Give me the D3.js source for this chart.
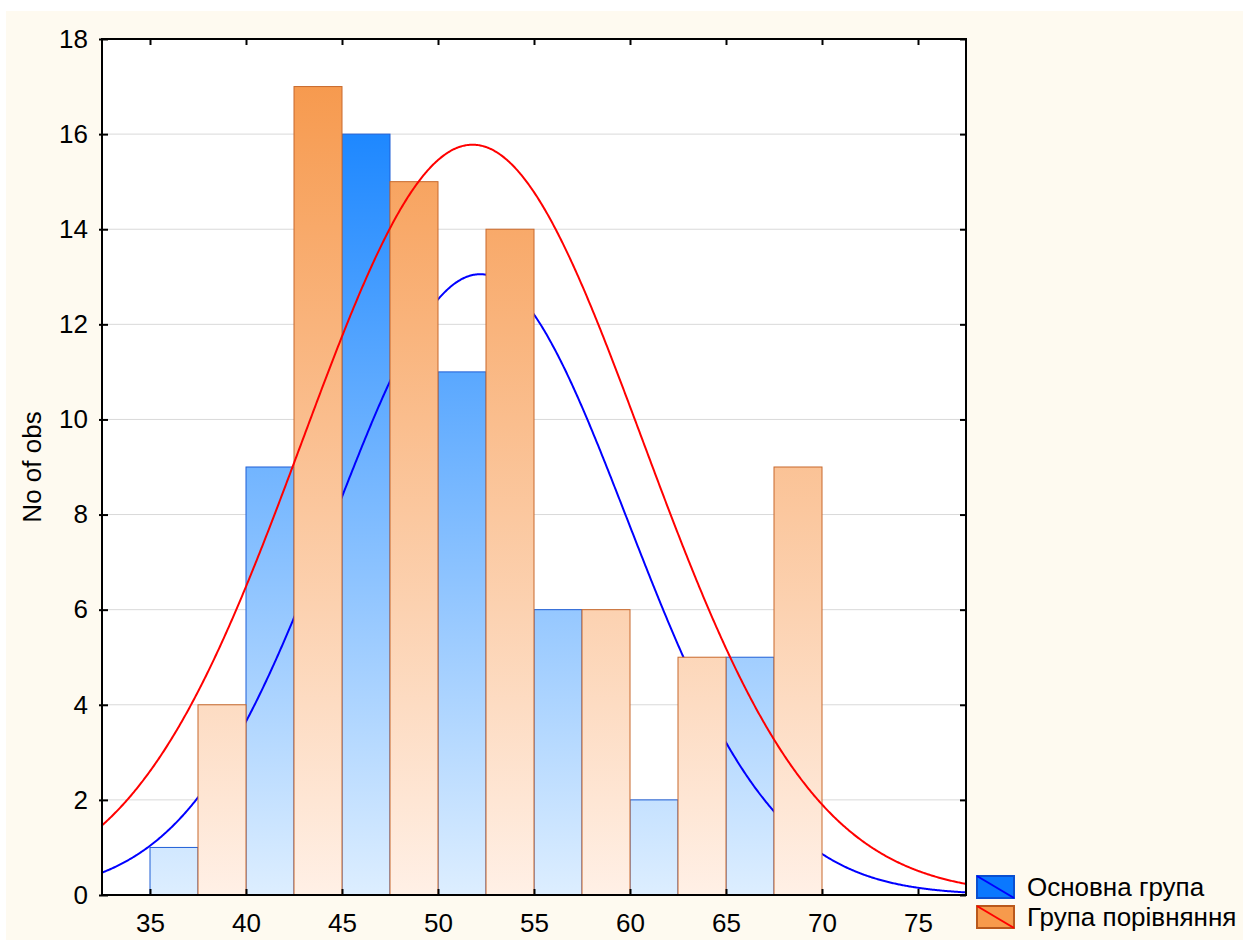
<!DOCTYPE html>
<html>
<head>
<meta charset="utf-8">
<script src="https://cdn.jsdelivr.net/npm/d3@7"></script>
<style>
  html, body { margin: 0; padding: 0; background: #ffffff; }
  svg { display: block; font-family: Arial, "Liberation Sans", sans-serif; }
</style>
</head>
<body>
<svg id="chart" width="1243" height="940"></svg>
<script>
// Histogram intervals (left edge of each 5-unit class) and counts per group
const binStarts   = [35, 40, 45, 50, 55, 60, 65];
const binWidth    = 5;
const mainCounts  = [1, 9, 16, 11, 6, 2, 5];   // Основна група
const compCounts  = [4, 17, 15, 14, 6, 5, 9];  // Група порівняння

// Normal fit parameters for each group
const mainFit = { mean: 52.2, sd: 7.64 };
const compFit = { mean: 51.8, sd: 8.85 };

const xTicks = [35, 40, 45, 50, 55, 60, 65, 70, 75];
const yTicks = [0, 2, 4, 6, 8, 10, 12, 14, 16, 18];
const seriesNames = ["Основна група", "Група порівняння"];

const svg = d3.select("#chart");
const W = 1243, H = 940;
const m = { left: 102, top: 39, right: 966, bottom: 895 };

// page background
svg.append("rect").attr("x", 6).attr("y", 11).attr("width", W - 6).attr("height", H - 11)
  .attr("fill", "#fefaf0");

const x = d3.scaleLinear().domain([32.5, 77.5]).range([m.left, m.right]);
const y = d3.scaleLinear().domain([0, 18]).range([m.bottom, m.top]);

// plot area
svg.append("rect").attr("x", m.left).attr("y", m.top)
  .attr("width", m.right - m.left).attr("height", m.bottom - m.top).attr("fill", "#ffffff");

const defs = svg.append("defs");
function vGrad(id, c0, c1) {
  const g = defs.append("linearGradient").attr("id", id)
    .attr("gradientUnits", "userSpaceOnUse")
    .attr("x1", 0).attr("x2", 0).attr("y1", y(0)).attr("y2", y(18));
  g.append("stop").attr("offset", "0%").attr("stop-color", c0);
  g.append("stop").attr("offset", "100%").attr("stop-color", c1);
}
vGrad("gradMain", "#ddeeff", "#067bff");
vGrad("gradComp", "#fff0e6", "#f69546");

// horizontal grid
svg.append("g").selectAll("line").data(yTicks.filter(d => d > 0 && d < 18)).join("line")
  .attr("x1", m.left).attr("x2", m.right)
  .attr("y1", d => y(d)).attr("y2", d => y(d))
  .attr("stroke", "#d9d9d9").attr("stroke-width", 1);

const plot = svg.append("g");
const half = binWidth / 2;
const barW = x(binStarts[0] + half) - x(binStarts[0]);

function expected(fit, n, v) {
  const z = (v - fit.mean) / fit.sd;
  return n * binWidth * Math.exp(-0.5 * z * z) / (fit.sd * Math.sqrt(2 * Math.PI));
}
const xs = d3.range(0, 901).map(i => 32.5 + i * 45 / 900);
const line = d3.line().x(d => x(d[0])).y(d => y(d[1]));
const nMain = d3.sum(mainCounts), nComp = d3.sum(compCounts);

// first group: bars then its fitted curve
plot.append("g").selectAll("rect").data(binStarts).join("rect")
  .attr("x", d => x(d))
  .attr("y", (d, i) => y(mainCounts[i]))
  .attr("width", barW)
  .attr("height", (d, i) => y(0) - y(mainCounts[i]))
  .attr("fill", "url(#gradMain)")
  .attr("stroke", "#1f5fd6").attr("stroke-width", 1);

plot.append("path").datum(xs.map(v => [v, expected(mainFit, nMain, v)]))
  .attr("d", line).attr("fill", "none").attr("stroke", "#0000ff").attr("stroke-width", 2);

// second group: bars then its fitted curve
plot.append("g").selectAll("rect").data(binStarts).join("rect")
  .attr("x", d => x(d + half))
  .attr("y", (d, i) => y(compCounts[i]))
  .attr("width", barW)
  .attr("height", (d, i) => y(0) - y(compCounts[i]))
  .attr("fill", "url(#gradComp)")
  .attr("stroke", "#c8692c").attr("stroke-width", 1);

plot.append("path").datum(xs.map(v => [v, expected(compFit, nComp, v)]))
  .attr("d", line).attr("fill", "none").attr("stroke", "#ff0000").attr("stroke-width", 2);

// frame
svg.append("rect").attr("x", m.left).attr("y", m.top)
  .attr("width", m.right - m.left).attr("height", m.bottom - m.top)
  .attr("fill", "none").attr("stroke", "#000").attr("stroke-width", 2);

// axes: ticks inside the frame on all four sides
const fs = 26;
const axB = svg.append("g").attr("transform", `translate(0,${m.bottom})`)
  .call(d3.axisBottom(x).tickValues(xTicks).tickSize(-6).tickPadding(19));
const axT = svg.append("g").attr("transform", `translate(0,${m.top})`)
  .call(d3.axisTop(x).tickValues(xTicks).tickSize(-6).tickFormat(""));
const axL = svg.append("g").attr("transform", `translate(${m.left},0)`)
  .call(d3.axisLeft(y).tickValues(yTicks).tickSize(-6).tickPadding(14));
const axR = svg.append("g").attr("transform", `translate(${m.right},0)`)
  .call(d3.axisRight(y).tickValues(yTicks).tickSize(-6).tickFormat(""));
[axB, axT, axL, axR].forEach(a => {
  a.select(".domain").remove();
  a.selectAll(".tick line").attr("stroke", "#000").attr("stroke-width", 2);
  a.selectAll(".tick text").attr("font-size", fs).attr("fill", "#000")
    .attr("font-family", "Arial, 'Liberation Sans', sans-serif");
});
axL.selectAll(".tick line").attr("x1", -3);

// axis title
svg.append("text").attr("transform", `translate(41,${(m.top + m.bottom) / 2}) rotate(-90)`)
  .attr("text-anchor", "middle").attr("font-size", fs).attr("fill", "#000")
  .text("No of obs");

// legend
const legend = svg.append("g");
const legendItems = [
  { name: seriesNames[0], fill: "#0a78ff", stroke: "#0a4fd0", diag: "#0000ff" },
  { name: seriesNames[1], fill: "#f79a4c", stroke: "#b9581c", diag: "#ff0000" }
];
legendItems.forEach((it, i) => {
  const ly = 876 + i * 30;
  legend.append("rect").attr("x", 977).attr("y", ly).attr("width", 37).attr("height", 22)
    .attr("fill", it.fill).attr("stroke", it.stroke).attr("stroke-width", 2);
  legend.append("line").attr("x1", 977).attr("y1", ly).attr("x2", 1014).attr("y2", ly + 22)
    .attr("stroke", it.diag).attr("stroke-width", 2);
  legend.append("text").attr("x", 1027).attr("y", ly + 20).attr("font-size", fs)
    .attr("fill", "#000").text(it.name);
});
</script>
</body>
</html>
